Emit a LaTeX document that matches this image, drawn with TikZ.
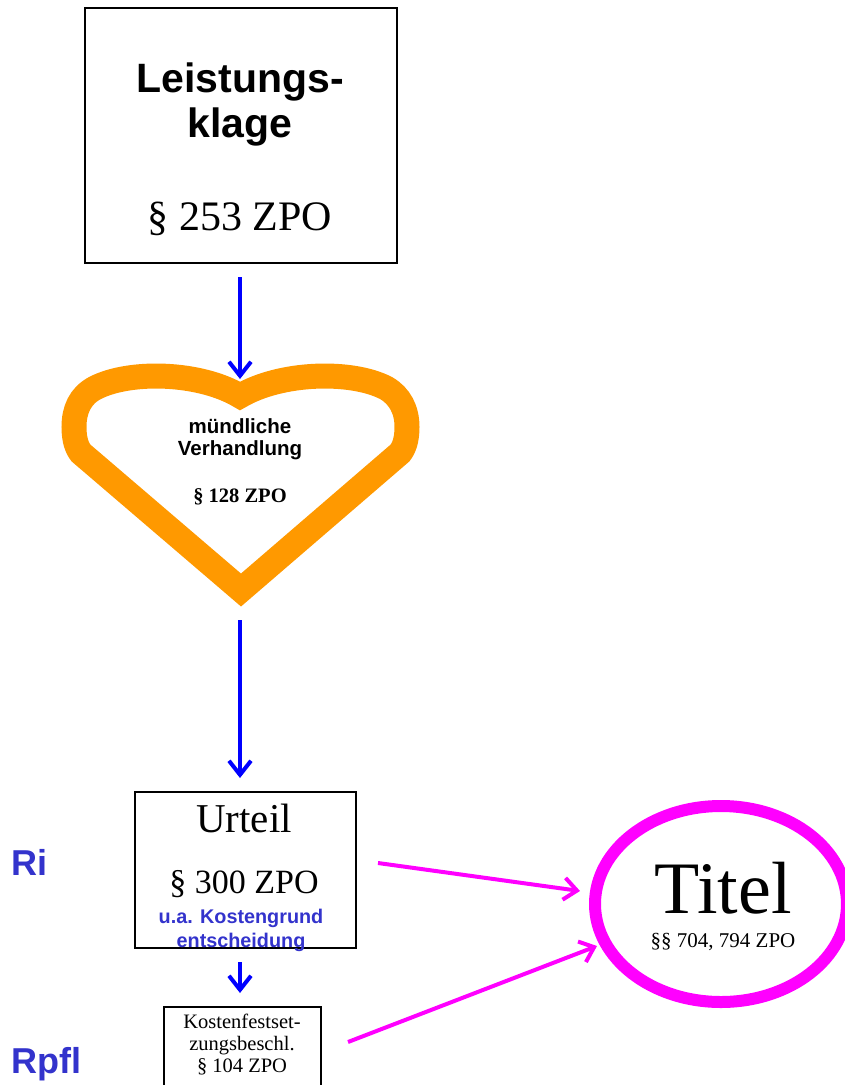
\documentclass[tikz,border=0pt]{standalone}
\usepackage{fontspec}
\setmainfont{Liberation Serif}
\setsansfont{Liberation Sans}
\usetikzlibrary{arrows.meta,shapes.geometric}
\definecolor{hearto}{RGB}{255,153,0}
\definecolor{lblue}{RGB}{51,51,204}
\definecolor{mag}{RGB}{255,0,255}
\definecolor{arrb}{RGB}{0,0,255}
\tikzset{
  box/.style={draw=black, line width=2pt, inner sep=0pt, anchor=north west},
  txt/.style={inner sep=0pt, anchor=base},
  bluearrow/.style={draw=arrb, line width=4pt, -{Straight Barb[length=14pt,width=22pt]}},
  magarrow/.style={draw=mag, line width=4pt, -{Straight Barb[length=13pt,width=22pt]}},
  heartline/.style={draw=hearto, line width=25pt, line join=miter},
}
\newcommand{\fsz}[1]{\fontsize{#1}{#1}\selectfont}
\begin{document}
\begin{tikzpicture}[x=1pt,y=-1pt]
\useasboundingbox (0,0) rectangle (845,1085);
% boxes
\node[box, minimum width=312pt, minimum height=255pt] (box1) at (84,7) {};
\node[box, minimum width=221pt, minimum height=156pt] (urteil) at (134,791) {};
\node[box, minimum width=157pt, minimum height=90pt] (kosten) at (163,1006) {};
% heart
\path[heartline] (240,396) .. controls (200,372) and (130,370) .. (95,388)
  .. controls (80,396) and (74,410) .. (74,427)
  .. controls (74,440) and (77,448) .. (81,453) -- (241,590) -- (400,453)
  .. controls (404,448) and (407,440) .. (407,427)
  .. controls (407,410) and (400,396) .. (386,388)
  .. controls (351,370) and (281,372) .. (240,396) -- cycle;
% ellipse
\node[ellipse, draw=mag, line width=12pt, minimum width=252pt, minimum height=196pt, inner sep=0pt] (titel) at (721,904) {};
% texts box1
\node[txt, font=\sffamily\bfseries\fsz{41}] (t1a) at (240,92) {Leistungs-};
\node[txt, font=\sffamily\bfseries\fsz{41}] (t1b) at (240,137) {klage};
\node[txt, font=\rmfamily\fsz{42}] (t1c) at (240,230) {§ 253 ZPO};
% heart texts
\node[txt, font=\sffamily\bfseries\fsz{20.5}] (h1) at (240,433) {mündliche};
\node[txt, font=\sffamily\bfseries\fsz{20.5}] (h2) at (240,455) {Verhandlung};
\node[txt, font=\rmfamily\bfseries\fsz{20.5}] (h3) at (240,502) {§ 128 ZPO};
% urteil texts
\node[txt, font=\rmfamily\fsz{41}] (u1) at (244,832) {Urteil};
\node[txt, font=\rmfamily\fsz{34}] (u2) at (244,893) {§ 300 ZPO};
\node[txt, font=\sffamily\bfseries\fsz{19.8}, text=lblue] (u3) at (241,923) {u.a. Kostengrund};
\node[txt, font=\sffamily\bfseries\fsz{19.8}, text=lblue] (u4) at (241,947) {entscheidung};
% kosten texts
\node[txt, font=\rmfamily\fsz{20.5}] (k1) at (242,1028) {Kostenfestset-};
\node[txt, font=\rmfamily\fsz{20.5}] (k2) at (242,1050) {zungsbeschl.};
\node[txt, font=\rmfamily\fsz{20.5}] (k3) at (242,1072) {§ 104 ZPO};
% titel texts
\node[txt, font=\rmfamily\fsz{74}] (ti1) at (723,913) {Titel};
\node[txt, font=\rmfamily\fsz{21}] (ti2) at (723,947) {§§ 704, 794 ZPO};
% side labels
\node[inner sep=0pt, anchor=base west, font=\sffamily\bfseries\fsz{36}, text=lblue] (ri) at (11,875) {Ri};
\node[inner sep=0pt, anchor=base west, font=\sffamily\bfseries\fsz{36}, text=lblue] (rpfl) at (11,1073) {Rpfl};
% arrow end points
\coordinate (a1s) at (240,277);
\coordinate (a1e) at (240,379);
\coordinate (a2s) at (240,620);
\coordinate (a2e) at (240,778);
\coordinate (a3s) at (240,962);
\coordinate (a3e) at (240,993);
\coordinate (m1s) at (378,863);
\coordinate (m1e) at (580,891);
\coordinate (m2s) at (348,1042);
\coordinate (m2e) at (597,946);
% arrows
\draw[bluearrow] (a1s) -- (a1e);
\draw[bluearrow] (a2s) -- (a2e);
\draw[bluearrow] (a3s) -- (a3e);
\draw[magarrow] (m1s) -- (m1e);
\draw[magarrow] (m2s) -- (m2e);
\end{tikzpicture}
\end{document}
